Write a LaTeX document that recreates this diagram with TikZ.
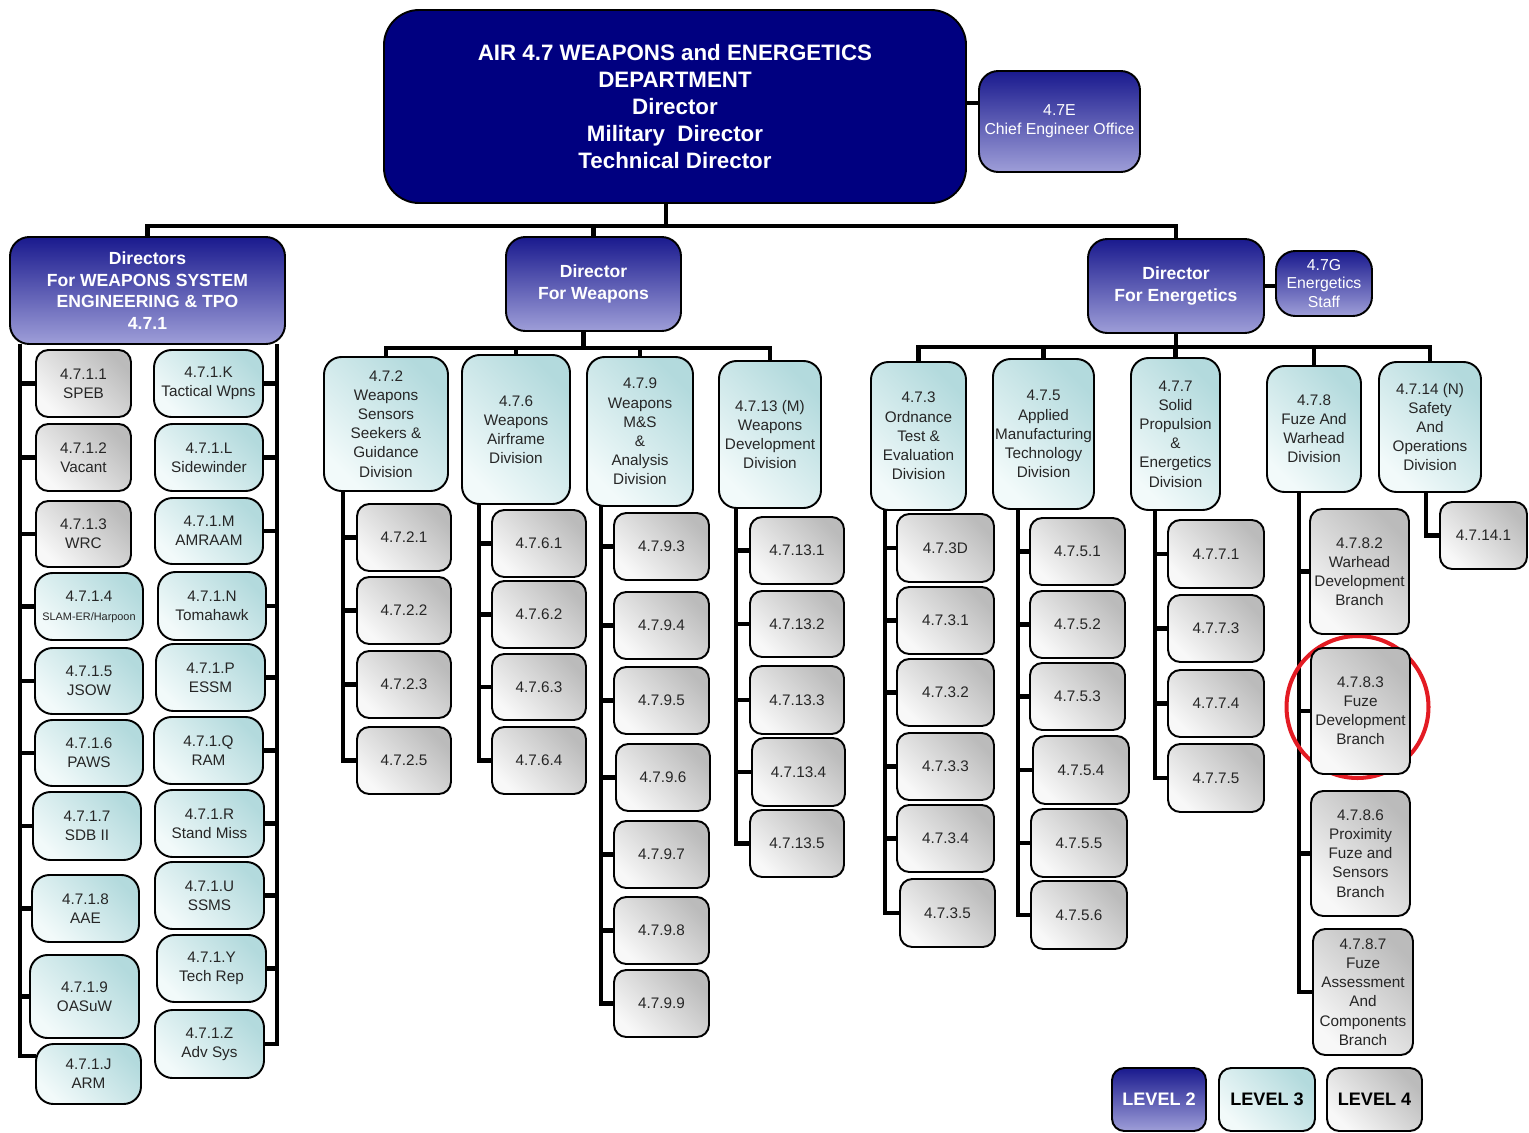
\documentclass[tikz,border=0pt]{standalone}
\usepackage{fontspec}
\setmainfont{Liberation Sans}
\usetikzlibrary{calc}

\definecolor{navy}{HTML}{000080}
\definecolor{ltwoT}{HTML}{1A1A8E}
\definecolor{ltwoB}{HTML}{9E9ED8}
\definecolor{lthrT}{HTML}{B3DADD}
\definecolor{lthrB}{HTML}{F2FAFA}
\definecolor{lfouT}{HTML}{BBBBBB}
\definecolor{lfouB}{HTML}{F8F8F8}
\definecolor{ink}{HTML}{262626}
\definecolor{markred}{HTML}{E31B23}

\pgfdeclarelayer{links}
\pgfdeclarelayer{marks}
\pgfsetlayers{links,marks,main}

\tikzset{
  unitbox/.style={draw=black, line width=1.1pt, align=center, inner sep=0.5pt, outer sep=0pt},
  topbox/.style={unitbox, fill=navy, rounded corners=20pt, text=white,
    font=\bfseries\fontsize{12.7}{15.3}\selectfont},
  lvtwo/.style={unitbox, rounded corners=11pt, top color=ltwoT, bottom color=ltwoB, text=white},
  lvtwob/.style={lvtwo, font=\bfseries\fontsize{10}{12.2}\selectfont},
  lvtwon/.style={lvtwo, font=\fontsize{9}{10.6}\selectfont},
  lvthree/.style={unitbox, rounded corners=10pt, top color=lthrT, bottom color=lthrB,
    shading angle=-45, text=ink, font=\fontsize{8.7}{10.9}\selectfont},
  lvfour/.style={unitbox, rounded corners=7pt, top color=lfouT, bottom color=lfouB,
    shading angle=-45, text=ink, font=\fontsize{8.7}{10.9}\selectfont},
  keytwo/.style={lvtwo, rounded corners=7pt, font=\bfseries\fontsize{10.3}{12}\selectfont},
  keythree/.style={lvthree, rounded corners=7pt, text=black, font=\bfseries\fontsize{10.3}{12}\selectfont},
  keyfour/.style={lvfour, rounded corners=7pt, text=black, font=\bfseries\fontsize{10.3}{12}\selectfont},
  conn/.style={line width=2.3pt, line join=miter},
  ring/.style={draw=markred, line width=2.3pt}
}

% box: style, name, left, top, width, height (pixel units), text
\newcommand\ob[7]{\node[#1, anchor=north west, minimum width={#5*0.02cm},
  minimum height={#6*0.02cm}] (#2) at (#3,#4) {#7};}

\begin{document}
\begin{tikzpicture}[x=0.02cm, y=-0.02cm]
\useasboundingbox (0,0) rectangle (1529,1133);

% department and directors
\ob{topbox}{top}{384}{10}{582}{193}{AIR 4.7 WEAPONS and ENERGETICS\\DEPARTMENT\\Director\\Military~ Director\\Technical Director}
\ob{lvtwon}{ce}{979}{71}{161}{101}{4.7E\\Chief Engineer Office}
\ob{lvtwob}{wse}{10}{237}{275}{107}{Directors\\For WEAPONS SYSTEM\\ENGINEERING \& TPO\\4.7.1}
\ob{lvtwob}{dw}{506}{237}{175}{94}{Director\\For Weapons}
\ob{lvtwob}{de}{1088}{239}{176}{94}{Director\\For Energetics}
\ob{lvtwon}{eg}{1276}{251}{96}{65}{4.7G\\Energetics\\Staff}

% 4.7.1 programs, left column
\ob{lvfour}{s1}{36}{350}{95}{67}{4.7.1.1\\SPEB}
\ob{lvfour}{s2}{36}{424}{95}{67}{4.7.1.2\\Vacant}
\ob{lvfour}{s3}{36}{501}{95}{66}{4.7.1.3\\WRC}
\ob{lvthree}{s4}{35}{573}{108}{67}{4.7.1.4\\{\fontsize{6.2}{7.5}\selectfont SLAM-ER/Harpoon}}
\ob{lvthree}{s5}{35}{648}{108}{66}{4.7.1.5\\JSOW}
\ob{lvthree}{s6}{35}{720}{108}{66}{4.7.1.6\\PAWS}
\ob{lvthree}{s7}{33}{792}{108}{68}{4.7.1.7\\SDB II}
\ob{lvthree}{s8}{32}{875}{107}{67}{4.7.1.8\\AAE}
\ob{lvthree}{s9}{30}{955}{109}{83}{4.7.1.9\\OASuW}
\ob{lvthree}{sJ}{36}{1044}{105}{60}{4.7.1.J\\ARM}

% 4.7.1 programs, right column
\ob{lvthree}{rK}{154}{350}{109}{67}{4.7.1.K\\Tactical Wpns}
\ob{lvthree}{rL}{155}{424}{108}{67}{4.7.1.L\\Sidewinder}
\ob{lvthree}{rM}{155}{498}{108}{66}{4.7.1.M\\AMRAAM}
\ob{lvthree}{rN}{158}{572}{108}{68}{4.7.1.N\\Tomahawk}
\ob{lvthree}{rP}{156}{644}{109}{67}{4.7.1.P\\ESSM}
\ob{lvthree}{rQ}{154}{717}{109}{67}{4.7.1.Q\\RAM}
\ob{lvthree}{rR}{155}{790}{109}{67}{4.7.1.R\\Stand Miss}
\ob{lvthree}{rU}{155}{862}{109}{67}{4.7.1.U\\SSMS}
\ob{lvthree}{rY}{157}{935}{109}{67}{4.7.1.Y\\Tech Rep}
\ob{lvthree}{rZ}{155}{1010}{109}{68}{4.7.1.Z\\Adv Sys}

% weapons divisions
\ob{lvthree}{d472}{324}{357}{124}{134}{4.7.2\\Weapons\\Sensors\\Seekers \&\\Guidance\\Division}
\ob{lvthree}{d476}{462}{355}{108}{149}{4.7.6\\Weapons\\Airframe\\Division}
\ob{lvthree}{d479}{587}{357}{106}{149}{4.7.9\\Weapons\\M\&S\\\&\\Analysis\\Division}
\ob{lvthree}{d4713}{719}{361}{102}{147}{4.7.13 (M)\\Weapons\\Development\\Division}

\ob{lvfour}{c4721}{357}{504}{94}{67}{4.7.2.1}
\ob{lvfour}{c4722}{357}{577}{94}{67}{4.7.2.2}
\ob{lvfour}{c4723}{357}{651}{94}{67}{4.7.2.3}
\ob{lvfour}{c4725}{357}{727}{94}{67}{4.7.2.5}

\ob{lvfour}{c4761}{492}{510}{94}{67}{4.7.6.1}
\ob{lvfour}{c4762}{492}{581}{94}{67}{4.7.6.2}
\ob{lvfour}{c4763}{492}{654}{94}{66}{4.7.6.3}
\ob{lvfour}{c4764}{492}{727}{94}{67}{4.7.6.4}

\ob{lvfour}{c4793}{614}{513}{95}{67}{4.7.9.3}
\ob{lvfour}{c4794}{614}{592}{95}{67}{4.7.9.4}
\ob{lvfour}{c4795}{614}{667}{95}{67}{4.7.9.5}
\ob{lvfour}{c4796}{616}{744}{94}{67}{4.7.9.6}
\ob{lvfour}{c4797}{614}{821}{95}{67}{4.7.9.7}
\ob{lvfour}{c4798}{614}{897}{95}{67}{4.7.9.8}
\ob{lvfour}{c4799}{614}{970}{95}{67}{4.7.9.9}

\ob{lvfour}{c47131}{750}{517}{94}{67}{4.7.13.1}
\ob{lvfour}{c47132}{750}{591}{94}{66}{4.7.13.2}
\ob{lvfour}{c47133}{750}{666}{94}{68}{4.7.13.3}
\ob{lvfour}{c47134}{752}{738}{93}{68}{4.7.13.4}
\ob{lvfour}{c47135}{750}{810}{94}{67}{4.7.13.5}

% energetics divisions
\ob{lvthree}{d473}{871}{362}{95}{148}{4.7.3\\Ordnance\\Test \&\\Evaluation\\Division}
\ob{lvthree}{d475}{993}{359}{101}{150}{4.7.5\\Applied\\Manufacturing\\Technology\\Division}
\ob{lvthree}{d477}{1131}{358}{89}{152}{4.7.7\\Solid\\Propulsion\\\&\\Energetics\\Division}
\ob{lvthree}{d478}{1267}{366}{94}{126}{4.7.8\\Fuze And\\Warhead\\Division}
\ob{lvthree}{d4714}{1379}{362}{102}{130}{4.7.14 (N)\\Safety\\And\\Operations\\Division}

\ob{lvfour}{c473D}{897}{514}{97}{68}{4.7.3D}
\ob{lvfour}{c4731}{897}{587}{97}{67}{4.7.3.1}
\ob{lvfour}{c4732}{897}{659}{97}{67}{4.7.3.2}
\ob{lvfour}{c4733}{897}{733}{97}{67}{4.7.3.3}
\ob{lvfour}{c4734}{897}{805}{97}{67}{4.7.3.4}
\ob{lvfour}{c4735}{900}{879}{95}{68}{4.7.3.5}

\ob{lvfour}{c4751}{1030}{518}{95}{67}{4.7.5.1}
\ob{lvfour}{c4752}{1030}{591}{95}{67}{4.7.5.2}
\ob{lvfour}{c4753}{1030}{663}{95}{67}{4.7.5.3}
\ob{lvfour}{c4754}{1033}{736}{96}{68}{4.7.5.4}
\ob{lvfour}{c4755}{1031}{809}{96}{68}{4.7.5.5}
\ob{lvfour}{c4756}{1031}{881}{96}{68}{4.7.5.6}

\ob{lvfour}{c4771}{1168}{520}{96}{68}{4.7.7.1}
\ob{lvfour}{c4773}{1168}{595}{96}{67}{4.7.7.3}
\ob{lvfour}{c4774}{1168}{670}{96}{67}{4.7.7.4}
\ob{lvfour}{c4775}{1168}{744}{96}{68}{4.7.7.5}

\ob{lvfour}{c4782}{1310}{509}{99}{125}{4.7.8.2\\Warhead\\Development\\Branch}
\ob{lvfour}{c4783}{1311}{648}{99}{126}{4.7.8.3\\Fuze\\Development\\Branch}
\ob{lvfour}{c4786}{1311}{791}{99}{125}{4.7.8.6\\Proximity\\Fuze and\\Sensors\\Branch}
\ob{lvfour}{c4787}{1313}{929}{100}{126}{4.7.8.7\\Fuze\\Assessment\\And\\Components\\Branch}

\ob{lvfour}{c47141}{1440}{502}{87}{67}{4.7.14.1}

% key
\ob{keytwo}{k2}{1112}{1068}{94}{63}{LEVEL 2}
\ob{keythree}{k3}{1219}{1068}{96}{63}{LEVEL 3}
\ob{keyfour}{k4}{1327}{1068}{95}{63}{LEVEL 4}

% bus rows, drop points and spine columns
\coordinate (busT) at (0,226);
\coordinate (busW) at (0,348);
\coordinate (busE) at (0,347);
\coordinate (ceY) at (0,103);
\coordinate (topDrop) at ($(top.south)+(-9,0)$);
\coordinate (dwDrop) at ($(dw.south)+(-10,0)$);
\coordinate (armHook) at ($(sJ.north west)+(0,12)$);
\coordinate (spL) at (20,0);
\coordinate (spR) at (277,0);
\coordinate (sp472) at (343,0);
\coordinate (sp476) at (479,0);
\coordinate (sp479) at (601,0);
\coordinate (sp4713) at (736,0);
\coordinate (sp473) at (885,0);
\coordinate (sp475) at (1018,0);
\coordinate (sp477) at (1155,0);
\coordinate (sp478) at (1299,0);
\coordinate (sp4714) at (1426,0);

\begin{pgfonlayer}{links}
  \draw[conn] (top.east |- ceY) -- (ce.west |- ceY);
  \foreach \d in {wse,dw,de}
    \draw[conn] (topDrop) |- (busT -| \d.north) -- (\d.north);
  \draw[conn] (de.east) -- (de.east -| eg.west);

  \foreach \d in {d472,d476,d479,d4713}
    \draw[conn] (dwDrop) |- (busW -| \d.north) -- (\d.north);
  \foreach \d in {d473,d475,d477,d478,d4714}
    \draw[conn] (de.south) |- (busE -| \d.north) -- (\d.north);

  \foreach \c in {s1,s2,s3,s4,s5,s6,s7,s8,s9}
    \draw[conn] (wse.south -| spL) |- (\c.west);
  \draw[conn] (wse.south -| spL) |- (armHook);
  \foreach \c in {rK,rL,rM,rN,rP,rQ,rR,rU,rY,rZ}
    \draw[conn] (wse.south -| spR) |- (\c.east);

  \foreach \c in {c4721,c4722,c4723,c4725}
    \draw[conn] (d472.south -| sp472) |- (\c.west);
  \foreach \c in {c4761,c4762,c4763,c4764}
    \draw[conn] (d476.south -| sp476) |- (\c.west);
  \foreach \c in {c4793,c4794,c4795,c4796,c4797,c4798,c4799}
    \draw[conn] (d479.south -| sp479) |- (\c.west);
  \foreach \c in {c47131,c47132,c47133,c47134,c47135}
    \draw[conn] (d4713.south -| sp4713) |- (\c.west);

  \foreach \c in {c473D,c4731,c4732,c4733,c4734,c4735}
    \draw[conn] (d473.south -| sp473) |- (\c.west);
  \foreach \c in {c4751,c4752,c4753,c4754,c4755,c4756}
    \draw[conn] (d475.south -| sp475) |- (\c.west);
  \foreach \c in {c4771,c4773,c4774,c4775}
    \draw[conn] (d477.south -| sp477) |- (\c.west);
  \foreach \c in {c4782,c4783,c4786,c4787}
    \draw[conn] (d478.south -| sp478) |- (\c.west);
  \draw[conn] (d4714.south -| sp4714) |- (c47141.west);
\end{pgfonlayer}

% highlight ring around the fuze development branch
\begin{pgfonlayer}{marks}
  \draw[ring] (c4783.center) ++(-3,-4) circle [radius=1.42cm];
\end{pgfonlayer}
\end{tikzpicture}
\end{document}
